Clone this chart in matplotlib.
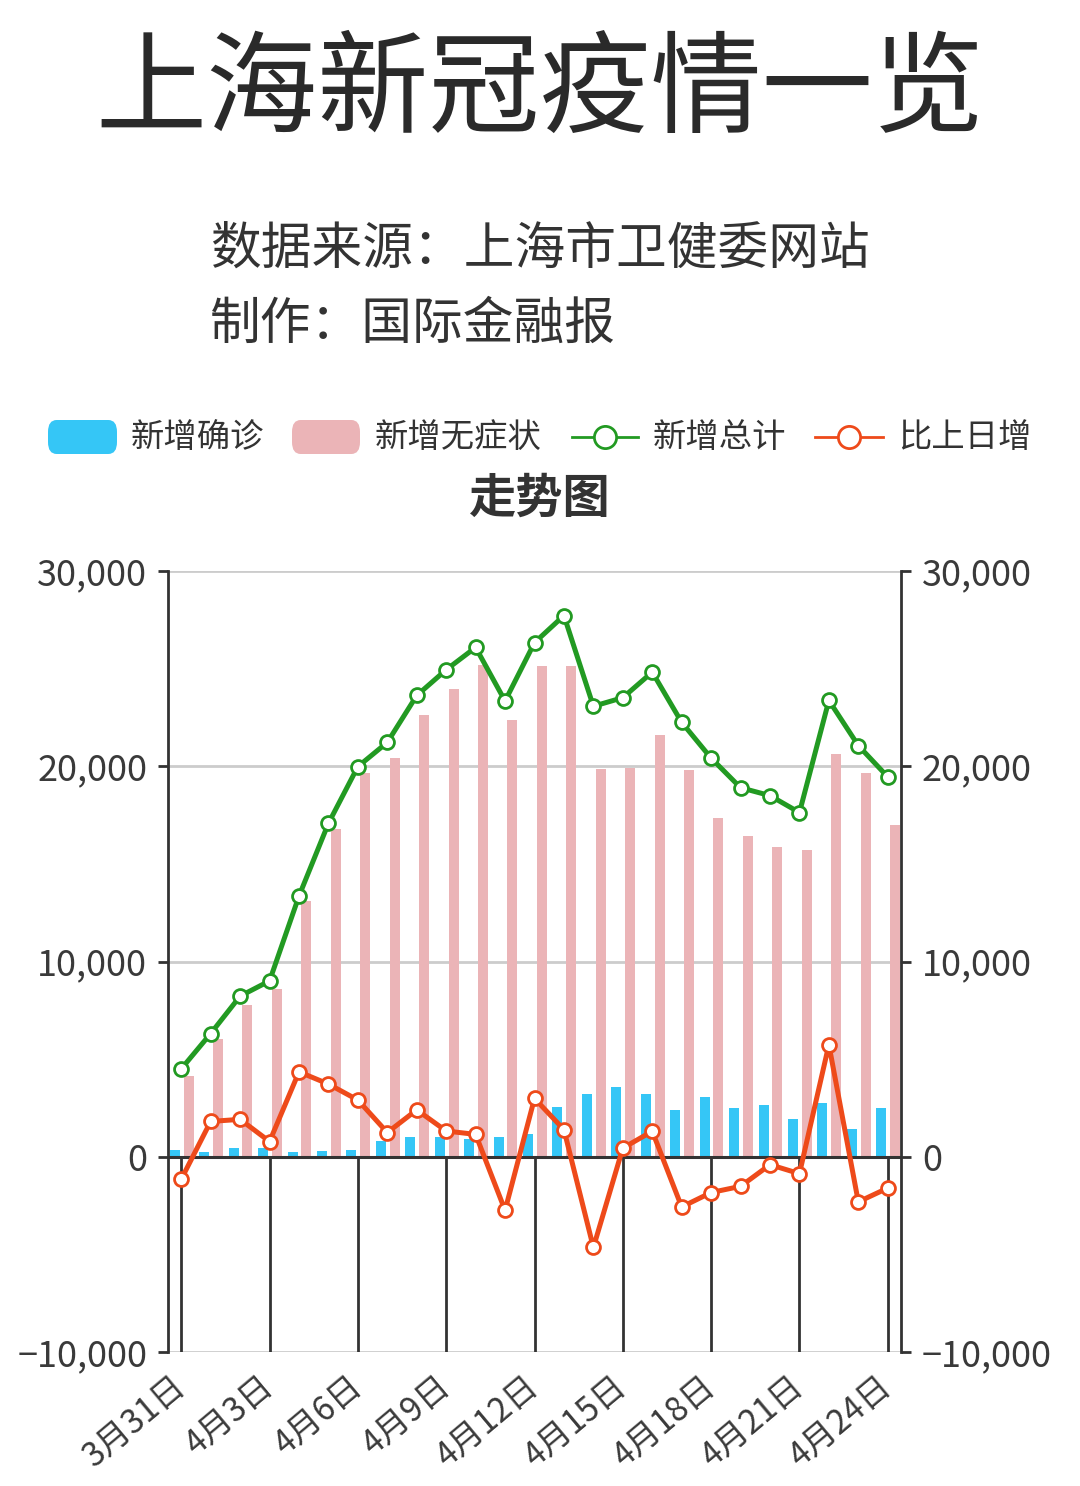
import matplotlib.pyplot as plt
import matplotlib.lines as mlines
from matplotlib.patches import FancyBboxPatch
from matplotlib.ticker import FuncFormatter
import numpy as np

plt.rcParams['font.family'] = ['Noto Sans CJK SC', 'DejaVu Sans']
plt.rcParams['axes.unicode_minus'] = True

# ── 数据 ──────────────────────────────────────────────
dates = ['3月31日', '4月1日', '4月2日', '4月3日', '4月4日', '4月5日', '4月6日',
         '4月7日', '4月8日', '4月9日', '4月10日', '4月11日', '4月12日', '4月13日',
         '4月14日', '4月15日', '4月16日', '4月17日', '4月18日', '4月19日',
         '4月20日', '4月21日', '4月22日', '4月23日', '4月24日']
confirmed = [358, 260, 438, 425, 268, 311, 322, 824, 1015, 1006, 914, 994, 1189,
             2573, 3200, 3590, 3238, 2417, 3084, 2494, 2634, 1931, 2736, 1401, 2472]
asymptomatic = [4144, 6051, 7788, 8581, 13086, 16766, 19660, 20398, 22609, 23937,
                25173, 22348, 25141, 25146, 19872, 19923, 21582, 19831, 17332,
                16407, 15861, 15698, 20634, 19657, 16983]
total = [4502, 6311, 8226, 9006, 13354, 17077, 19982, 21222, 23624, 24943, 26087,
         23342, 26330, 27719, 23072, 23513, 24820, 22248, 20416, 18901, 18495,
         17629, 23370, 21058, 19455]
change = [-1151, 1809, 1915, 780, 4348, 3723, 2905, 1240, 2402, 1319, 1144, -2745,
          2988, 1389, -4647, 441, 1307, -2572, -1832, -1515, -406, -866, 5741,
          -2312, -1603]
y_ticks = [-10000, 0, 10000, 20000, 30000]

# ── 颜色 ──────────────────────────────────────────────
C_BLUE = '#35C6F6'
C_PINK = '#EBB4B7'
C_GREEN = '#229A22'
C_ORANGE = '#EE4A1A'
C_TEXT = '#333333'
C_GRID = '#CCCCCC'

W, H = 1080, 1486
fig = plt.figure(figsize=(W / 100, H / 100), dpi=100)


def fx(px):
    return px / W


def fy(py):
    return 1 - py / H


# ── 标题 ──────────────────────────────────────────────
fig.text(0.5, fy(92), '上海新冠疫情一览', fontsize=80, color='#2A2A2A',
         ha='center', va='center')
fig.text(fx(210), fy(250), '数据来源：上海市卫健委网站', fontsize=36.5,
         color=C_TEXT, ha='left', va='center')
fig.text(fx(210), fy(325), '制作：国际金融报', fontsize=36.5,
         color=C_TEXT, ha='left', va='center')
fig.text(0.5, fy(499), '走势图', fontsize=34, fontweight='bold',
         color=C_TEXT, ha='center', va='center')

# ── 图例（手动）────────────────────────────────────────
leg_y = 437
for x0, x1, col in [(48, 117, C_BLUE), (292, 360, C_PINK)]:
    fig.patches.append(FancyBboxPatch(
        (fx(x0), fy(leg_y + 17)), fx(x1 - x0), 34 / H,
        boxstyle='round,pad=0,rounding_size=0.008',
        transform=fig.transFigure, facecolor=col, edgecolor='none'))
for x0, x1, col in [(572, 638, C_GREEN), (815, 883, C_ORANGE)]:
    fig.lines.append(mlines.Line2D(
        [fx(x0), fx(x1)], [fy(leg_y), fy(leg_y)], transform=fig.transFigure,
        color=col, lw=2))
    fig.lines.append(mlines.Line2D(
        [fx((x0 + x1) / 2)], [fy(leg_y)], transform=fig.transFigure,
        marker='o', markersize=16, markerfacecolor='white',
        markeredgecolor=col, markeredgewidth=2, lw=0))
for x0, label in [(131, '新增确诊'), (375, '新增无症状'), (653, '新增总计'), (898, '比上日增')]:
    fig.text(fx(x0), fy(leg_y), label, fontsize=24, color=C_TEXT,
             ha='left', va='center')

# ── 主图 ──────────────────────────────────────────────
ax = fig.add_axes([fx(168), fy(1352), fx(901 - 168), (1352 - 571) / H])
x = np.arange(len(dates))
bw = 0.34

ax.bar(x - 0.22, confirmed, width=bw, color=C_BLUE, zorder=2)
ax.bar(x + 0.25, asymptomatic, width=bw, color=C_PINK, zorder=2)

for yv in y_ticks:
    if yv != 0:
        ax.axhline(yv, color=C_GRID, lw=2, zorder=0)
ax.vlines(x[::3], y_ticks[0], 0, color=C_TEXT, lw=2, zorder=1)
ax.axhline(0, color=C_TEXT, lw=2.2, zorder=3)

ax.plot(x, total, color=C_GREEN, lw=3.6, zorder=4,
        marker='o', markersize=10, markerfacecolor='white',
        markeredgecolor=C_GREEN, markeredgewidth=2)
ax.plot(x, change, color=C_ORANGE, lw=3.6, zorder=5,
        marker='o', markersize=10, markerfacecolor='white',
        markeredgecolor=C_ORANGE, markeredgewidth=2)

ax.set_xlim(-0.45, len(dates) - 1 + 0.45)
ax.set_ylim(y_ticks[0], y_ticks[-1])

for side in ['top', 'bottom']:
    ax.spines[side].set_visible(False)
for side in ['left', 'right']:
    ax.spines[side].set_color(C_TEXT)
    ax.spines[side].set_linewidth(2)

ax.set_yticks(y_ticks)
ax.yaxis.set_major_formatter(FuncFormatter(
    lambda v, p: f'{int(v):,}'.replace('-', '\u2212')))
ax.tick_params(axis='y', which='both', left=True, right=True,
               labelleft=True, labelright=True, length=7, width=2,
               color=C_TEXT, labelsize=26, labelcolor='#3A3A3A', pad=8)

ax.set_xticks(x[::3])
ax.set_xticklabels(dates[::3], rotation=40, ha='right', va='center',
                   rotation_mode='anchor')
ax.tick_params(axis='x', length=0, labelsize=24, labelcolor='#3A3A3A', pad=22)

fig.savefig('out.png', dpi=100, facecolor='white')
plt.close(fig)
